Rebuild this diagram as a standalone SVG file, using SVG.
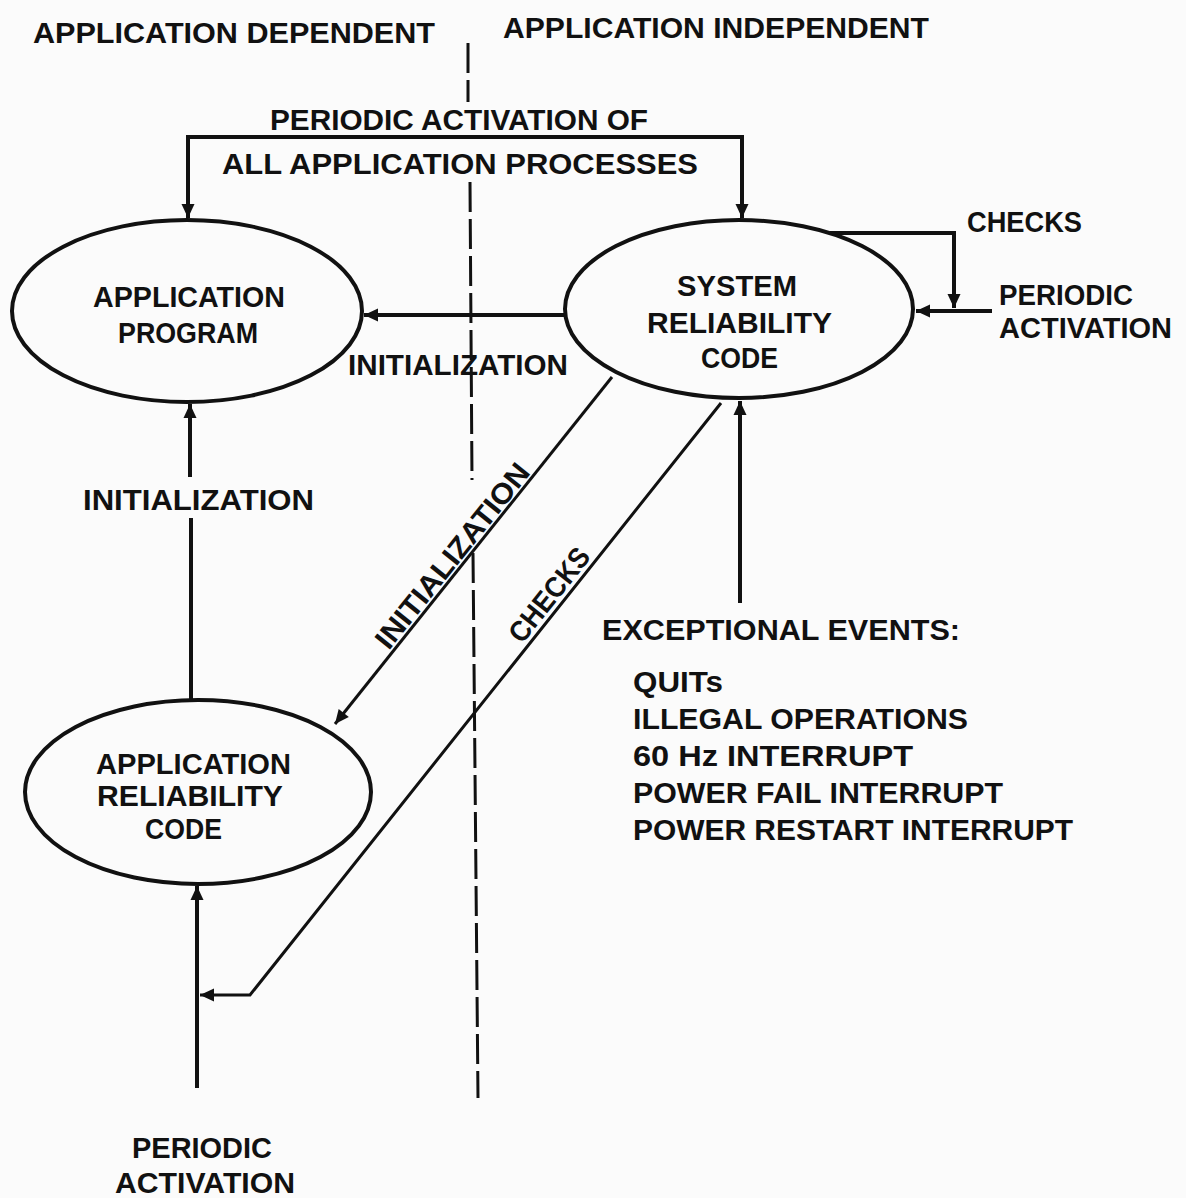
<svg xmlns="http://www.w3.org/2000/svg" width="1186" height="1198" viewBox="0 0 1186 1198">
<style>
  .t { font-family: "Liberation Sans", Arial, sans-serif; font-weight: bold; font-size: 29px; fill: #111; }
  .node { fill: none; stroke: #111; stroke-width: 4; }
  .ln { fill: none; stroke: #111; stroke-width: 4; }
  .thin { fill: none; stroke: #111; stroke-width: 3; }
  .dash { fill: none; stroke: #111; stroke-width: 3; stroke-dasharray: 30 7; }
</style>
<defs>
  <marker id="arr" markerUnits="userSpaceOnUse" markerWidth="16" markerHeight="16" refX="15" refY="8" orient="auto-start-reverse">
    <path d="M1,1.5 L15,8 L1,14.5 z" fill="#111"/>
  </marker>
</defs>
<rect x="0" y="0" width="1186" height="1198" fill="#fbfbfb"/>

<g id="headings">
  <text class="t" x="33" y="43" textLength="402" lengthAdjust="spacingAndGlyphs">APPLICATION DEPENDENT</text>
  <text class="t" x="503" y="38" textLength="426" lengthAdjust="spacingAndGlyphs">APPLICATION INDEPENDENT</text>
</g>

<g id="divider">
  <path class="dash" d="M468,43 V102"/>
  <path class="dash" d="M470,182 L472,480"/>
  <path class="dash" d="M473,553 L478,1098"/>
</g>

<g id="connectors">
  <path class="ln" d="M188,218 V137 H742 V218" marker-start="url(#arr)" marker-end="url(#arr)"/>
  <path class="ln" d="M566,315 H364" marker-end="url(#arr)"/>
  <path class="ln" d="M190,477 V404" marker-end="url(#arr)"/>
  <path class="ln" d="M191,518 V700"/>
  <path class="thin" d="M612,377 L335,724" marker-end="url(#arr)"/>
  <path class="thin" d="M721,403 L250,995 H200" marker-end="url(#arr)"/>
  <path class="ln" d="M197,1088 V886" marker-end="url(#arr)"/>
  <path class="ln" d="M740,603 V401" marker-end="url(#arr)"/>
  <path class="ln" d="M830,233 H954 V308" marker-end="url(#arr)"/>
  <path class="ln" d="M992,311 H916" marker-end="url(#arr)"/>
</g>

<g id="connector-labels">
  <text class="t" x="270" y="130" textLength="378" lengthAdjust="spacingAndGlyphs">PERIODIC ACTIVATION OF</text>
  <text class="t" x="222" y="174" textLength="476" lengthAdjust="spacingAndGlyphs">ALL APPLICATION PROCESSES</text>
  <text class="t" x="348" y="375" textLength="220" lengthAdjust="spacingAndGlyphs">INITIALIZATION</text>
  <text class="t" x="83" y="510" textLength="231" lengthAdjust="spacingAndGlyphs">INITIALIZATION</text>
  <text class="t" text-anchor="middle" transform="translate(460,562) rotate(-51.3)" textLength="228" lengthAdjust="spacingAndGlyphs">INITIALIZATION</text>
  <text class="t" text-anchor="middle" transform="translate(557,601) rotate(-51.5)" textLength="112" lengthAdjust="spacingAndGlyphs">CHECKS</text>
  <text class="t" x="967" y="232" textLength="115" lengthAdjust="spacingAndGlyphs">CHECKS</text>
  <text class="t" x="999" y="305" textLength="134" lengthAdjust="spacingAndGlyphs">PERIODIC</text>
  <text class="t" x="999" y="338" textLength="173" lengthAdjust="spacingAndGlyphs">ACTIVATION</text>
  <text class="t" x="132" y="1158" textLength="140" lengthAdjust="spacingAndGlyphs">PERIODIC</text>
  <text class="t" x="115" y="1193" textLength="180" lengthAdjust="spacingAndGlyphs">ACTIVATION</text>
</g>

<g id="node-application-program">
  <ellipse class="node" cx="187" cy="311" rx="175" ry="91"/>
  <text class="t" x="93" y="307" textLength="192" lengthAdjust="spacingAndGlyphs">APPLICATION</text>
  <text class="t" x="118" y="343" textLength="140" lengthAdjust="spacingAndGlyphs">PROGRAM</text>
</g>

<g id="node-system-reliability-code">
  <ellipse class="node" cx="739" cy="309" rx="174" ry="89"/>
  <text class="t" x="677" y="296" textLength="120" lengthAdjust="spacingAndGlyphs">SYSTEM</text>
  <text class="t" x="647" y="333" textLength="185" lengthAdjust="spacingAndGlyphs">RELIABILITY</text>
  <text class="t" x="701" y="368" textLength="77" lengthAdjust="spacingAndGlyphs">CODE</text>
</g>

<g id="node-application-reliability-code">
  <ellipse class="node" cx="198" cy="792" rx="173" ry="92"/>
  <text class="t" x="96" y="774" textLength="195" lengthAdjust="spacingAndGlyphs">APPLICATION</text>
  <text class="t" x="97" y="806" textLength="186" lengthAdjust="spacingAndGlyphs">RELIABILITY</text>
  <text class="t" x="145" y="839" textLength="77" lengthAdjust="spacingAndGlyphs">CODE</text>
</g>

<g id="exceptional-events">
  <text class="t" x="602" y="640" textLength="358" lengthAdjust="spacingAndGlyphs">EXCEPTIONAL EVENTS:</text>
  <text class="t" x="633" y="692" textLength="90" lengthAdjust="spacingAndGlyphs">QUITs</text>
  <text class="t" x="633" y="729" textLength="335" lengthAdjust="spacingAndGlyphs">ILLEGAL OPERATIONS</text>
  <text class="t" x="633" y="766" textLength="280" lengthAdjust="spacingAndGlyphs">60 Hz INTERRUPT</text>
  <text class="t" x="633" y="803" textLength="370" lengthAdjust="spacingAndGlyphs">POWER FAIL INTERRUPT</text>
  <text class="t" x="633" y="840" textLength="440" lengthAdjust="spacingAndGlyphs">POWER RESTART INTERRUPT</text>
</g>
</svg>
